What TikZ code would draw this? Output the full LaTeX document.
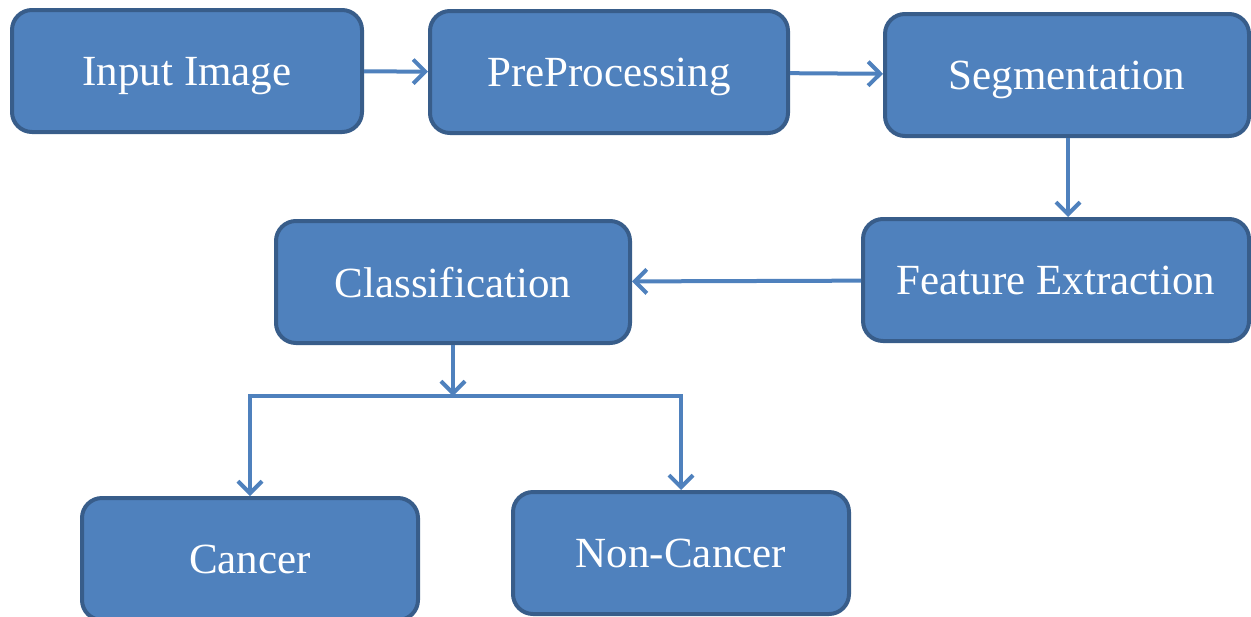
\documentclass[tikz,border=0pt]{standalone}
\usepackage{fontspec}
\setmainfont{Liberation Serif}
\usepackage{xcolor}
\usepackage{tikz}
\usetikzlibrary{arrows.meta, positioning}

\definecolor{boxfill}{HTML}{4F81BD}
\definecolor{boxline}{HTML}{385D8A}

\begin{document}
\begin{tikzpicture}[
  x=0.5pt, y=-0.5pt,
  every node/.style={font=\fontsize{21.5}{26}\selectfont, text=white},
  stageblock/.style={draw=boxline, fill=boxfill, line width=2pt, rounded corners=10pt,
                     align=center, text depth=0pt,
                     minimum width=175pt, minimum height=61pt},
  arr/.style={-{Straight Barb[length=6pt, width=12pt]}, draw=boxfill, line width=2pt},
]
\useasboundingbox (0,0) rectangle (1251,616);

%% -- top row ------------------------------------------------------------------
\node[stageblock] (input) at (187, 71) {Input Image};
\node[stageblock, minimum width=179pt] (prep) at (609, 72) {PreProcessing};
\node[stageblock, minimum width=182pt] (seg) at (1067, 75) {Segmentation};

%% -- middle row ---------------------------------------------------------------
\node[stageblock, minimum width=193pt] (feat) at (1056, 280) {Feature Extraction};
\node[stageblock, minimum width=177pt] (class) at (453, 282) {Classification};

%% -- outcomes -----------------------------------------------------------------
\node[stageblock, minimum width=168pt] (cancer) at (250, 559) {Cancer};
\node[stageblock, minimum width=168pt] (noncancer) at (681, 553) {Non-Cancer};

\coordinate (split) at (453, 396);

%% -- arrows -------------------------------------------------------------------
\draw[arr] (input) -- (prep);
\draw[arr] (prep) -- (seg);
\draw[arr] (seg.south -| 1068,0) -- (feat.north -| 1068,0);
\draw[arr] (feat) -- (class);
\draw[arr] (class) -- (split);
\draw[arr] (split) -| (cancer.north);
\draw[arr] (split) -| (noncancer.north);

\end{tikzpicture}
\end{document}
